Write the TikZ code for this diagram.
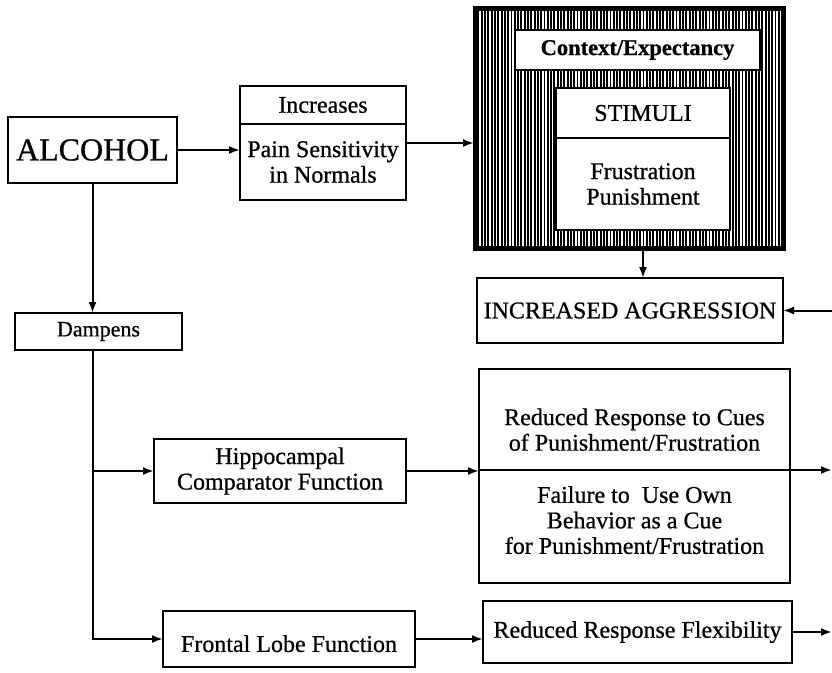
\documentclass[tikz,border=0pt]{standalone}
\usepackage{fontspec}
\setmainfont{Liberation Serif}[FakeBold=0.7]
\usetikzlibrary{arrows.meta}
\usetikzlibrary{positioning}
\usetikzlibrary{patterns.meta}
\usetikzlibrary{calc}
\tikzset{
  blk/.style = {rectangle, draw=black, line width=2.2pt, align=center,
    inner sep=0pt, outer sep=0pt, font=\fontsize{24}{25.5}\selectfont},% boite simple
  blk_w/.style = {blk, fill=white},% boite blanche dans le cadre
  blk_h/.style = {rectangle, draw=black, line width=5pt, inner sep=0pt,
    pattern={Lines[angle=90,distance=3.3pt,line width=1.9pt]}},% cadre hachure
  arr/.style = {-{Latex[length=11pt,width=8pt]}, line width=2pt}% fleche
}

\begin{document}
\begin{tikzpicture}[x=1pt,y=-1pt]
\useasboundingbox (0,0) rectangle (832,672);
\coordinate (rgt) at (832,0);% bord droit

\node [blk, minimum width=169pt, minimum height=66pt,
  font=\fontsize{32}{34}\selectfont] (alc) at (92.5,150) {ALCOHOL};
\node [blk, minimum width=166pt, minimum height=38pt] (incr) at (323,105) {Increases};
\node [blk, minimum width=166pt, minimum height=76pt, below=0pt of incr] (pain)
  {Pain Sensitivity\\in Normals};

% cadre hachure
\node [blk_h, minimum width=308pt, minimum height=240pt] (ctx) at (629,128) {};
\node [blk_w, minimum width=245pt, minimum height=40pt,
  font=\fontsize{22.5}{25}\selectfont\bfseries] (expt) at (637.5,50) {Context/Expectancy};
\node [blk_w, minimum width=174pt, minimum height=50pt] (stim) at (643,113) {STIMULI};
\node [blk_w, minimum width=174pt, minimum height=92pt, below=0pt of stim] (frus)
  {Frustration\\Punishment};

\node [blk, minimum width=306pt, minimum height=65pt] (aggr) at (630,310.5) {INCREASED AGGRESSION};
\node [blk, minimum width=167pt, minimum height=37pt,
  font=\fontsize{22}{24}\selectfont] (damp) at (98.5,331.5) {Dampens};
\node [blk, minimum width=252pt, minimum height=64pt] (hipp) at (280,471)
  {Hippocampal\\Comparator Function};
\node [blk, minimum width=252pt, minimum height=56pt, text height=26pt] (front) at (289,639)
  {Frontal Lobe Function};
\node [blk, minimum width=311pt, minimum height=101pt] (cues) at (634.5,419.5)
  {\rule{0pt}{37pt}Reduced Response to Cues\\of Punishment/Frustration};
\node [blk, minimum width=311pt, minimum height=113pt, below=0pt of cues] (fail)
  {Failure to \ Use Own\\Behavior as a Cue\\for Punishment/Frustration\rule[-13pt]{0pt}{0pt}};
\node [blk, minimum width=309pt, minimum height=62pt] (flex) at (637.5,632) {Reduced Response Flexibility};

\coordinate (incr_o) at ($(incr.north east)!.5!(pain.south east)$);
\coordinate (trunk) at (alc.south |- damp.south);

\draw[arr] (alc.east) -- (alc.east -| pain.west);
\draw[arr] (incr_o) -- (incr_o -| ctx.west);
\draw[arr] (stim.south |- ctx.south) -- (stim.south |- aggr.north);
\draw[arr] (rgt |- aggr.east) -- (aggr.east);
\draw[arr] (alc.south) -- (alc.south |- damp.north);
\draw[arr] (trunk) |- (front.west);
\draw[arr] (trunk |- hipp.west) -- (hipp.west);
\draw[arr] (hipp.east) -- (hipp.east -| cues.west);
\draw[arr] (cues.south east) -- (cues.south east -| rgt);
\draw[arr] (front.east) -- (front.east -| flex.west);
\draw[arr] (flex.east) -- (flex.east -| rgt);
\end{tikzpicture}
\end{document}
